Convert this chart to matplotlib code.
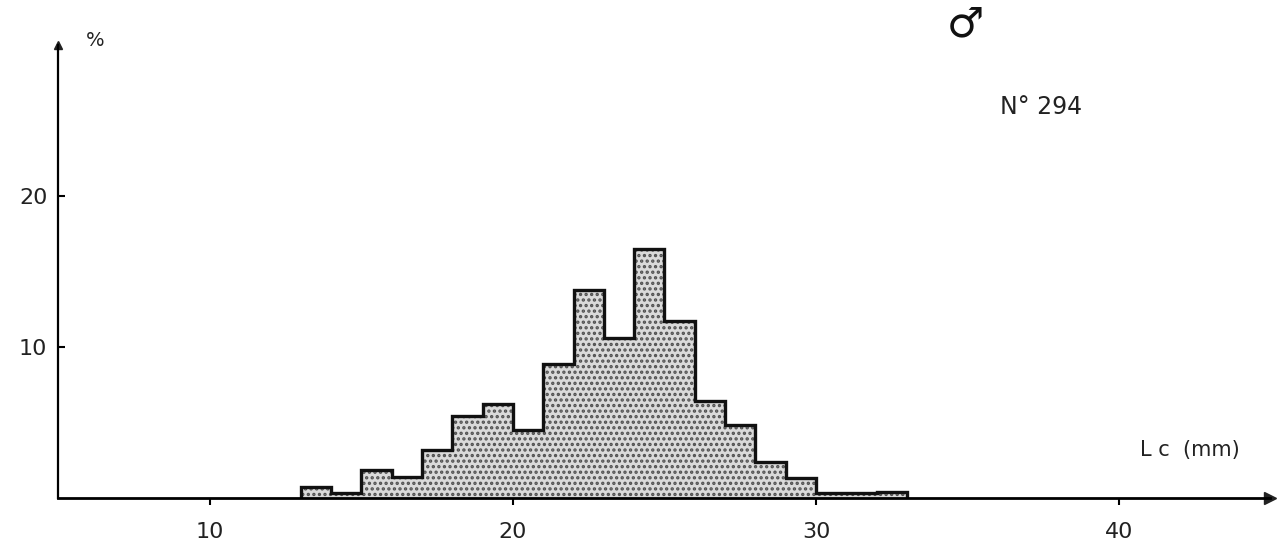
import matplotlib.pyplot as plt
import numpy as np

# carapace length classes (mm) and share of the catch (%), N = 294 males
edges = np.arange(13, 34, 1)
pct = [0.75, 0.3, 1.85, 1.37, 3.2, 5.4, 6.2, 4.5, 8.9, 13.8,
       10.6, 16.5, 11.7, 6.4, 4.8, 2.4, 1.35, 0.35, 0.35, 0.4]

xticks = [10, 20, 30, 40]
yticks = [10, 20]

plt.rcParams['hatch.linewidth'] = 1.6

fig = plt.figure(figsize=(12.82, 5.44), dpi=100)
ax = fig.add_axes([0.0456, 0.0846, 0.9454, 0.8327])

# stippled histogram with a heavy outline
ax.stairs(pct, edges, baseline=0, fill=True, facecolor='#dadada',
          edgecolor='#505050', linewidth=0, hatch='...')
ax.stairs(pct, edges, baseline=0, fill=False, color='#111111', linewidth=2.4)

ax.set_xlim(5, 45)
ax.set_ylim(0, 30)

for s in ['top', 'right']:
    ax.spines[s].set_visible(False)
ax.spines['bottom'].set_linewidth(2)
ax.spines['left'].set_linewidth(1.6)

# arrow heads at the ends of both axes
ax.plot(1, 0, '>', color='#222222', ms=8, transform=ax.transAxes, clip_on=False)
ax.plot(0, 1, '^', color='#222222', ms=6, transform=ax.transAxes, clip_on=False)

ax.set_xticks(xticks)
ax.set_xticklabels([str(t) for t in xticks])
ax.set_yticks(yticks)
ax.set_yticklabels([str(t) for t in yticks])
ax.tick_params(axis='x', direction='out', length=5, width=1.5, pad=12,
               labelsize=16, labelcolor='#222222')
ax.tick_params(axis='y', direction='in', length=5, width=1.5, pad=8,
               labelsize=16, labelcolor='#222222')

fig.text(95 / 1282, 1 - 40 / 544, '%', fontsize=14, color='#222222',
         ha='center', va='center')
fig.text(965 / 1282, 1 - 24 / 544, '♂', fontsize=30, color='#111111',
         ha='center', va='center')
fig.text(1041 / 1282, 1 - 107 / 544, 'N° 294', fontsize=17, color='#222222',
         ha='center', va='center')
fig.text(1190 / 1282, 1 - 450 / 544, 'L c  (mm)', fontsize=15, color='#222222',
         ha='center', va='center')

fig.savefig('out.png', dpi=100, facecolor='white')
